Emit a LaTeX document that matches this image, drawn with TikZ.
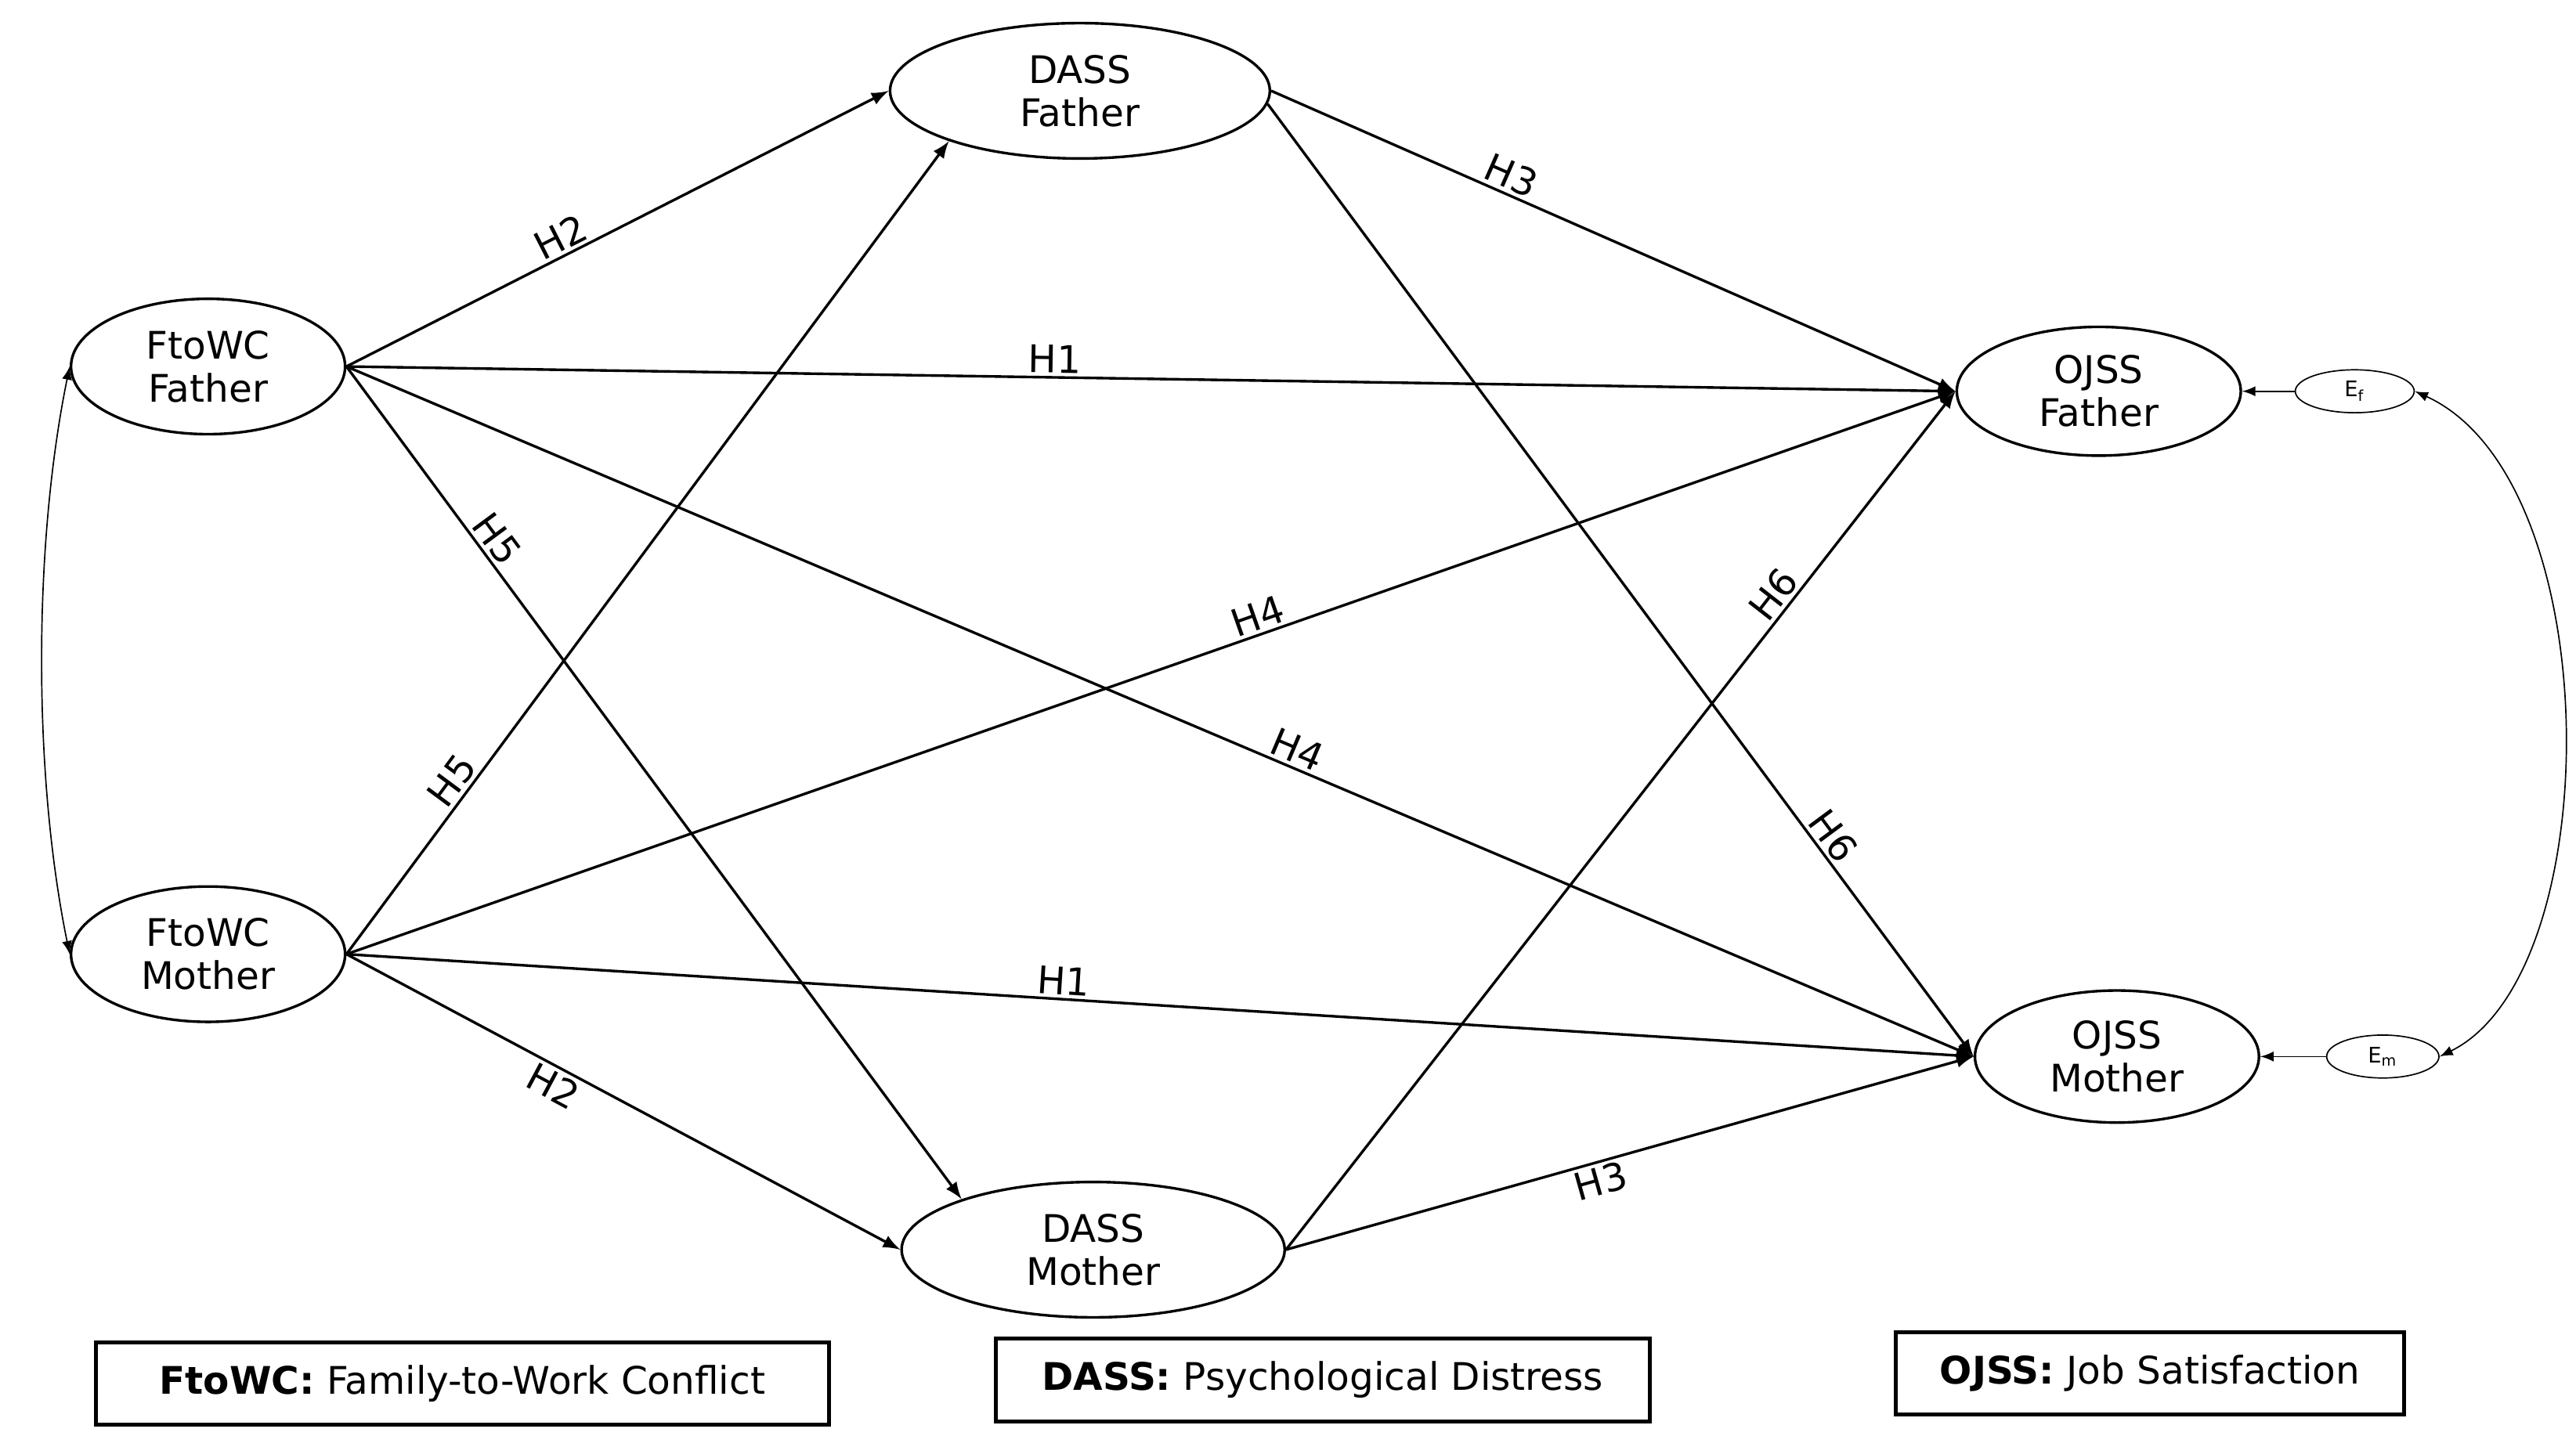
\documentclass[tikz,border=0pt]{standalone}
\usepackage{fontspec}
\setmainfont{DejaVu Sans}
\usetikzlibrary{shapes,arrows}
\begin{document}
\begin{tikzpicture}[x=0.5pt,y=-0.5pt,
  every node/.style={font=\fontsize{11.5}{13}\selectfont},
  var/.style={draw,ellipse,thick,minimum width=83pt,minimum height=41pt,inner sep=0,align=center},
  err/.style={draw,ellipse,minimum width=36pt,minimum height=13pt,inner sep=0,font=\fontsize{6.5}{7}\selectfont},
  path/.style={thick,-latex},
  lab/.style={sloped,inner sep=1pt},
  key/.style={draw,very thick,inner sep=0,minimum height=25pt}]
\useasboundingbox (0,0) rectangle (1560,869.5);
\node[var] (ff) at (126,222) {FtoWC\\Father};
\node[var] (fm) at (126,578) {FtoWC\\Mother};
\node[var,minimum width=115pt] (df) at (654,55) {DASS\\Father};
\node[var,minimum width=116pt] (dm) at (662,757) {DASS\\Mother};
\node[var,minimum width=86pt,minimum height=39pt] (of) at (1271,237) {OJSS\\Father};
\node[var,minimum width=86pt,minimum height=40pt] (om) at (1282,640) {OJSS\\Mother};
\node[err] (ef) at (1426,237) {E$_\mathrm{f}$};
\node[err,minimum width=34pt] (em) at (1443,640) {E$_\mathrm{m}$};

\draw[path] (ff.east) -- (df.west) node[lab,above,pos=.41] {H2};
\draw[path] (ff.east) -- (of.west) node[lab,above,pos=.44] {H1};
\draw[path] (df.east) -- (of.west) node[lab,above,pos=.34] {H3};
\draw[path] (ff.east) -- (dm.159) node[lab,above,pos=.22] {H5};
\draw[path] (fm.east) -- (of.west) node[lab,above,pos=.57] {H4};
\draw[path] (ff.east) -- (om.west) node[lab,above,pos=.58] {H4};
\draw[path] (dm.east) -- (of.west) node[lab,above,pos=.75] {H6};
\draw[path] (df.356) -- (om.west) node[lab,above,pos=.78] {H6};
\draw[path] (fm.east) -- (df.201) node[lab,above,pos=.2] {H5};
\draw[path] (fm.east) -- (om.west) node[lab,above,pos=.44] {H1};
\draw[path] (fm.east) -- (dm.west) node[lab,below,pos=.39] {H2};
\draw[path] (dm.east) -- (om.west) node[lab,below,pos=.45] {H3};

\draw[latex-latex] (ff.west) .. controls (20,330) and (20,470) .. (fm.west);
\draw[-latex] (ef) -- (of);
\draw[-latex] (em) -- (om);
\draw[latex-latex] (ef.east) .. controls (1580,290) and (1580,590) .. (em.east);

\node[key,minimum width=222pt] (k1) at (280,838) {\textbf{FtoWC:} Family-to-Work Conflict};
\node[key,minimum width=198pt] (k2) at (801,836) {\textbf{DASS:} Psychological Distress};
\node[key,minimum width=154pt] (k3) at (1302,832) {\textbf{OJSS:} Job Satisfaction};
\end{tikzpicture}
\end{document}
